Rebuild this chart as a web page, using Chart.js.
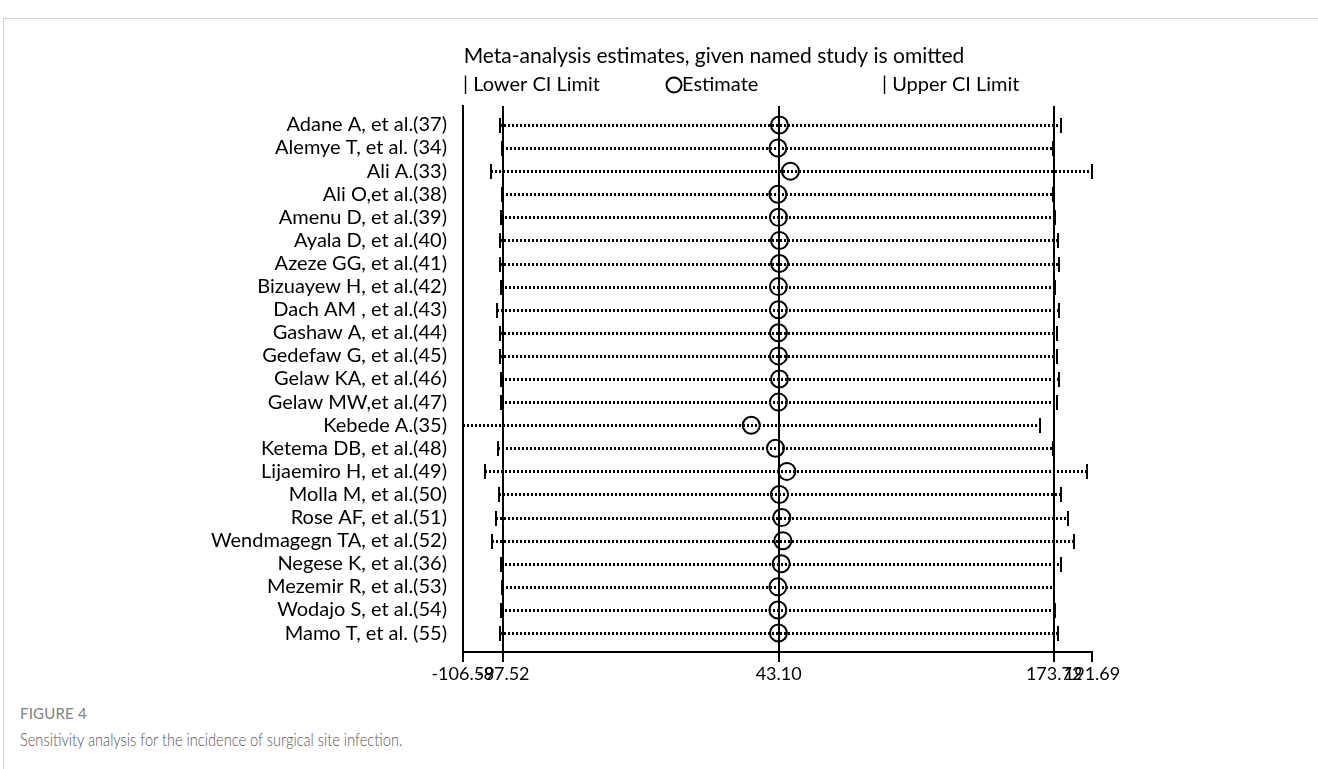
<!DOCTYPE html>
<html>
<head>
<meta charset="utf-8">
<title>Sensitivity analysis</title>
<script src="https://cdn.jsdelivr.net/npm/chart.js@4.4.1/dist/chart.umd.min.js"></script>
<style>
  html, body { margin: 0; padding: 0; background: #fff; width: 1318px; height: 769px; overflow: hidden; }
  #frame { position: absolute; left: 3px; top: 18px; width: 1320px; height: 760px;
           border-top: 1px solid #cfcfcf; border-left: 1px solid #cfcfcf; }
  #wrap { position: absolute; left: 0; top: 0; width: 1318px; height: 700px; }
  .figno { position: absolute; left: 20px; top: 704px; font: 15px Lato, sans-serif; color: #808080;
           letter-spacing: 0.2px; }
  .caption { position: absolute; left: 20px; top: 729px; font: 300 17px Lato, sans-serif; color: #555;
             white-space: nowrap; transform: scaleX(0.86); transform-origin: left top; }
</style>
</head>
<body>
<div id="frame"></div>
<div id="wrap"><canvas id="chart" width="1318" height="700"></canvas></div>
<div class="figno">FIGURE 4</div>
<div class="caption">Sensitivity analysis for the incidence of surgical site infection.</div>
<script>
// Studies, one per row (top to bottom)
const studies = [
  "Adane A, et al.(37)", "Alemye T, et al. (34)", "Ali A.(33)", "Ali O,et al.(38)",
  "Amenu D, et al.(39)", "Ayala D, et al.(40)", "Azeze GG, et al.(41)", "Bizuayew H, et al.(42)",
  "Dach AM , et al.(43)", "Gashaw A, et al.(44)", "Gedefaw G, et al.(45)", "Gelaw KA, et al.(46)",
  "Gelaw MW,et al.(47)", "Kebede A.(35)", "Ketema DB, et al.(48)", "Lijaemiro H, et al.(49)",
  "Molla M, et al.(50)", "Rose AF, et al.(51)", "Wendmagegn TA, et al.(52)", "Negese K, et al.(36)",
  "Mezemir R, et al.(53)", "Wodajo S, et al.(54)", "Mamo T, et al. (55)"
];

// Pooled estimate with the named study omitted
const estimate = [
  43.48, 42.72, 48.68, 42.72, 43.00, 43.48, 43.48, 43.00,
  43.00, 43.00, 43.00, 43.48, 43.00, 30.10, 41.60, 47.00,
  43.48, 44.60, 45.10, 44.30, 42.72, 42.72, 43.00
];

// Lower 95% CI limit
const lowerCI = [
  -89.27, -87.99, -93.52, -88.00, -88.46, -89.27, -89.08, -88.46,
  -90.35, -89.27, -89.08, -88.80, -88.80, -106.59, -90.00, -96.20,
  -89.55, -90.80, -92.70, -88.46, -88.00, -88.46, -89.27
];

// Upper 95% CI limit
const upperCI = [
  176.88, 173.38, 191.69, 173.38, 174.20, 175.76, 175.95, 174.04,
  176.20, 175.00, 175.30, 176.10, 175.30, 166.80, 173.10, 189.20,
  176.88, 180.30, 183.20, 176.88, 173.70, 174.20, 175.76
];

// Axis marks: smallest lower limit, overall CI, overall estimate, largest upper limit
const axisTicks = [-106.59, -87.52, 43.10, 173.72, 191.69];

const FONT = "Lato, 'Open Sans', sans-serif";

// Dotted CI line with end bars for each row
const ciPlugin = {
  id: 'ciLines',
  beforeDatasetsDraw(chart) {
    const { ctx, scales: { x, y } } = chart;
    ctx.save();
    ctx.strokeStyle = '#000';
    studies.forEach((s, i) => {
      const py = Math.round(y.getPixelForValue(i)) + 0.5;
      const xl = Math.round(x.getPixelForValue(lowerCI[i]));
      const xu = Math.round(x.getPixelForValue(upperCI[i]));
      ctx.setLineDash([2, 2]);
      ctx.lineWidth = 3;
      ctx.lineCap = 'butt';
      ctx.beginPath();
      ctx.moveTo(xl, py);
      ctx.lineTo(xu, py);
      ctx.stroke();
      ctx.setLineDash([]);
      ctx.lineWidth = 2;
      ctx.beginPath();
      ctx.moveTo(xl, py - 7.5);
      ctx.lineTo(xl, py + 7.5);
      ctx.moveTo(xu, py - 7.5);
      ctx.lineTo(xu, py + 7.5);
      ctx.stroke();
    });
    ctx.restore();
  }
};

// Heading and key above the plot
const headPlugin = {
  id: 'heading',
  afterDraw(chart) {
    const { ctx } = chart;
    ctx.save();
    ctx.fillStyle = '#000';
    ctx.textBaseline = 'middle';
    ctx.font = '21px ' + FONT;
    ctx.textAlign = 'center';
    ctx.fillText('Meta-analysis estimates, given named study is omitted', 714, 56);
    ctx.textAlign = 'left';
    ctx.font = '20px ' + FONT;
    ctx.fillText('| Lower CI Limit', 463, 85);
    ctx.fillText('| Upper CI Limit', 882, 85);
    ctx.strokeStyle = '#000';
    ctx.lineWidth = 2;
    ctx.beginPath();
    ctx.arc(674, 85, 7.5, 0, Math.PI * 2);
    ctx.stroke();
    ctx.fillText('Estimate', 682, 85);
    ctx.restore();
  }
};

new Chart(document.getElementById('chart'), {
  type: 'scatter',
  data: {
    datasets: [{
      label: 'Estimate',
      data: estimate.map((e, i) => ({ x: e, y: i })),
      pointStyle: 'circle',
      pointRadius: 8.5,
      pointHoverRadius: 8.5,
      pointBorderWidth: 2,
      pointBorderColor: '#000',
      pointBackgroundColor: 'rgba(0,0,0,0)'
    }]
  },
  options: {
    responsive: false,
    animation: false,
    events: [],
    layout: { padding: { top: 106, right: 226, left: 0, bottom: 0 } },
    plugins: { legend: { display: false }, tooltip: { enabled: false }, title: { display: false } },
    scales: {
      x: {
        type: 'linear',
        min: axisTicks[0],
        max: axisTicks[axisTicks.length - 1],
        afterBuildTicks: (scale) => { scale.ticks = axisTicks.map(v => ({ value: v })); },
        afterFit: (scale) => { scale.height = 48; },
        ticks: {
          autoSkip: false, maxRotation: 0, padding: 1,
          color: '#000', font: { family: FONT, size: 18 },
          callback: (v) => Number(v).toFixed(2)
        },
        grid: {
          drawOnChartArea: true,
          color: (c) => (c.index >= 1 && c.index <= 3 ? '#000' : 'rgba(0,0,0,0)'),
          lineWidth: 2,
          tickColor: '#000',
          tickWidth: 2,
          tickLength: 10
        },
        border: { display: true, color: '#000', width: 2 }
      },
      y: {
        type: 'linear',
        reverse: true,
        min: -0.82,
        max: studies.length - 1 + 0.82,
        afterBuildTicks: (scale) => { scale.ticks = studies.map((s, i) => ({ value: i })); },
        afterFit: (scale) => { scale.width = 463; },
        ticks: {
          autoSkip: false, padding: 16,
          color: '#000', font: { family: FONT, size: 20 },
          callback: (v) => studies[v]
        },
        grid: { display: false, drawTicks: false },
        border: { display: true, color: '#000', width: 2 }
      }
    }
  },
  plugins: [ciPlugin, headPlugin]
});
</script>
</body>
</html>
